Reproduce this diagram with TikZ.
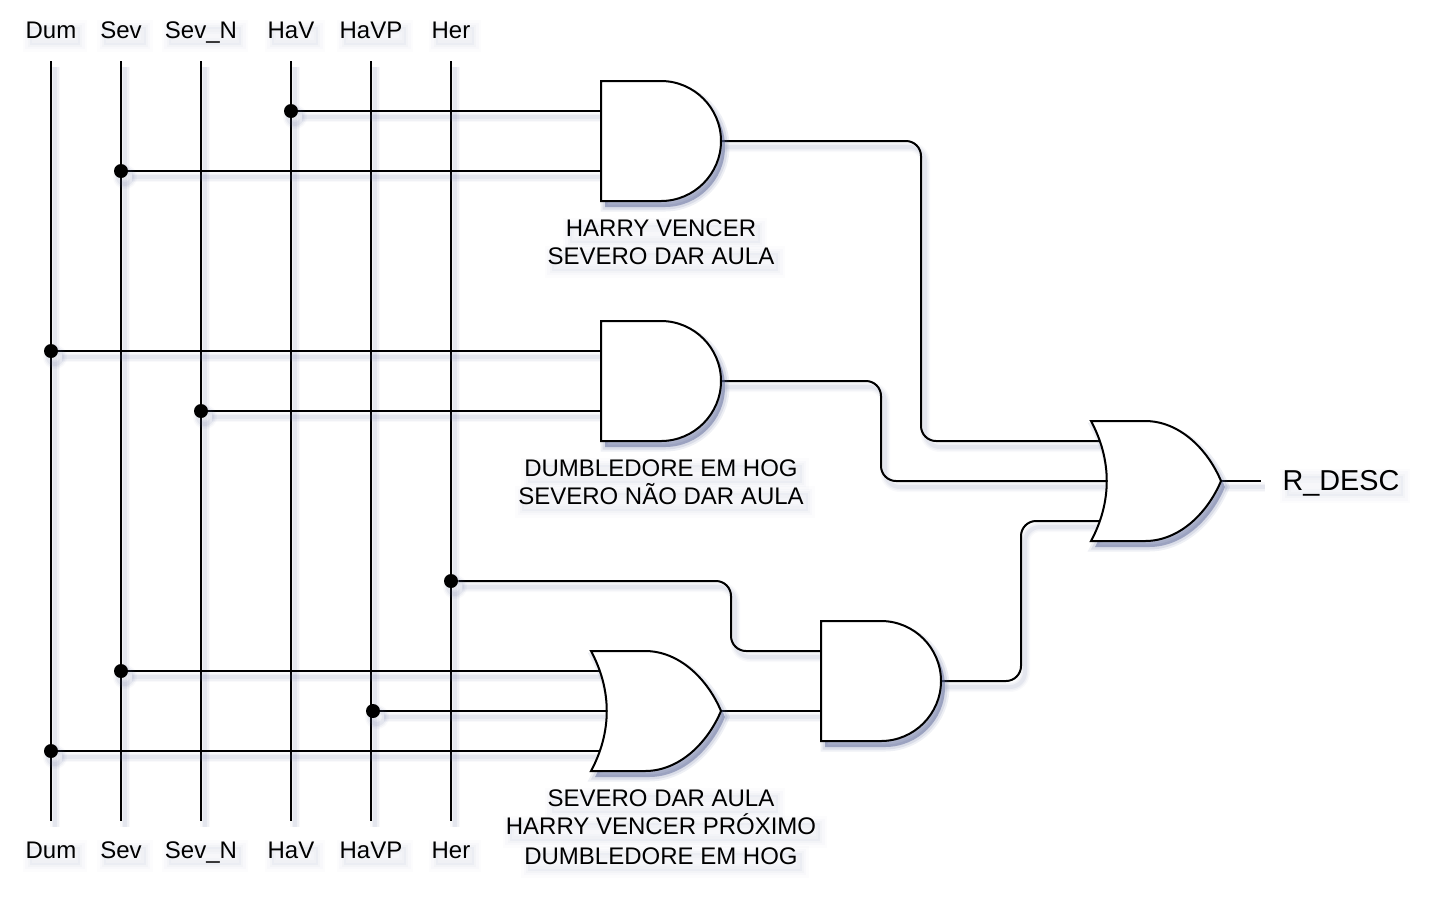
\documentclass[tikz,border=0pt]{standalone}
\usepackage{fontspec}
\setmainfont{Liberation Sans}
\usetikzlibrary{backgrounds}
\definecolor{ShadowBlue}{HTML}{5C6899}

\tikzset{
  soft/.style={
    preaction={draw=ShadowBlue,draw opacity=.04,line width=5pt,transform canvas={shift={(2pt,-3pt)}}},
    preaction={draw=ShadowBlue,draw opacity=.06,line width=3.5pt,transform canvas={shift={(2pt,-3pt)}}},
    preaction={draw=ShadowBlue,draw opacity=.08,line width=2pt,transform canvas={shift={(2pt,-3pt)}}}},
  softfill/.style={
    preaction={fill=ShadowBlue,fill opacity=.5,transform canvas={shift={(2pt,-3pt)}}},
    preaction={draw=ShadowBlue,draw opacity=.10,line width=4.5pt,transform canvas={shift={(2pt,-3pt)}}},
    preaction={draw=ShadowBlue,draw opacity=.14,line width=2.5pt,transform canvas={shift={(2pt,-3pt)}}}},
  softtext/.style={
    preaction={fill=ShadowBlue,fill opacity=.05,rounded corners=3pt,transform canvas={shift={(2pt,-3pt)}}},
    preaction={draw=ShadowBlue,draw opacity=.018,line width=7pt,rounded corners=3pt,transform canvas={shift={(2pt,-3pt)}}},
    preaction={draw=ShadowBlue,draw opacity=.025,line width=4.5pt,rounded corners=3pt,transform canvas={shift={(2pt,-3pt)}}},
    preaction={draw=ShadowBlue,draw opacity=.03,line width=2pt,rounded corners=3pt,transform canvas={shift={(2pt,-3pt)}}}},
  wire/.style={soft,line width=1pt,rounded corners=7.5pt},
  gatebody/.style={softfill,fill=white,draw=black,line width=1pt,line join=miter},
  dot/.style={soft,circle,fill=black,inner sep=0pt,minimum size=7pt},
  txt/.style={softtext,font=\fontsize{12}{14.4}\selectfont,inner sep=0pt,text height=8.6pt,text depth=0pt},
  bigtxt/.style={softtext,font=\fontsize{14.4}{17.3}\selectfont,inner sep=0pt,text height=10.3pt,text depth=0pt},
  andgate/.pic={
    \draw[gatebody] (0,0) -- (60,0) .. controls (93,0) and (120,27) .. (120,60)
      .. controls (120,93) and (93,120) .. (60,120) -- (0,120) -- cycle;
    \coordinate (-in1) at (0,30);
    \coordinate (-in2) at (0,90);
    \coordinate (-out) at (120,60);
  },
  orgate/.pic={
    \draw[gatebody] (0,0) -- (54,0) .. controls (89,0) and (117,29) .. (130,60)
      .. controls (117,91) and (89,120) .. (54,120) -- (0,120)
      .. controls (21,81) and (21,39) .. (0,0) -- cycle;
    \coordinate (-in1) at (9,20);
    \coordinate (-in2) at (16,60);
    \coordinate (-in3) at (9,100);
    \coordinate (-out) at (130,60);
  },
}

\begin{document}
\begin{tikzpicture}[x=0.5pt,y=-0.5pt]
  \useasboundingbox (0,0) rectangle (1442,902);

  % gates
  \pic (gHS) at (601,81) {andgate};
  \pic (gDS) at (601,321) {andgate};
  \pic (gOr) at (591,651) {orgate};
  \pic (gHer) at (821,621) {andgate};
  \pic (gOut) at (1091,421) {orgate};

  % rails with their names on both ends
  \foreach \x/\nm/\txt in {51/Dum/Dum,121/Sev/Sev,201/SevN/Sev\_N,291/HaV/HaV,371/HaVP/HaVP,451/Her/Her}{
    \coordinate (\nm a) at (\x,61);
    \coordinate (\nm b) at (\x,821);
    \node[txt] (\nm top) at (\x,30) {\txt};
    \node[txt] (\nm bot) at (\x,850) {\txt};
  }

  % junction dots
  \node[dot] (dHaV) at (291,111) {};
  \node[dot] (dSev) at (121,171) {};
  \node[dot] (dDum) at (51,351) {};
  \node[dot] (dSevN) at (201,411) {};
  \node[dot] (dHer) at (451,581) {};
  \node[dot] (dSevB) at (121,671) {};
  \node[dot] (dHaVP) at (373,711) {};
  \node[dot] (dDumB) at (51,751) {};

  \coordinate (endOut) at (1261,481);

  \begin{scope}[on background layer]
    \foreach \nm in {Dum,Sev,SevN,HaV,HaVP,Her}{
      \draw[wire] (\nm a) -- (\nm b);
    }
    \draw[wire] (dHaV) -- (gHS-in1);
    \draw[wire] (dSev) -- (gHS-in2);
    \draw[wire] (dDum) -- (gDS-in1);
    \draw[wire] (dSevN) -- (gDS-in2);
    \draw[wire] (dSevB) -- (gOr-in1);
    \draw[wire] (dHaVP) -- (gOr-in2);
    \draw[wire] (dDumB) -- (gOr-in3);
    \draw[wire] (dHer) -- ++(280,0) -- ++(0,70) -- (gHer-in1);
    \draw[wire] (gOr-out) -- (gHer-in2);
    \draw[wire] (gHS-out) -- ++(200,0) -- ++(0,300) -- (gOut-in1);
    \draw[wire] (gDS-out) -- ++(160,0) -- ++(0,100) -- (gOut-in2);
    \draw[wire] (gHer-out) -- ++(80,0) -- ++(0,-160) -- (gOut-in3);
    \draw[wire] (gOut-out) -- (endOut);
  \end{scope}

  % captions
  \node[txt] (capHSa) at (661,228) {HARRY VENCER};
  \node[txt] (capHSb) at (661,256) {SEVERO DAR AULA};
  \node[txt] (capDSa) at (661,468) {DUMBLEDORE EM HOG};
  \node[txt] (capDSb) at (661,496) {SEVERO NÃO DAR AULA};
  \node[txt] (capOra) at (661,798) {SEVERO DAR AULA};
  \node[txt] (capOrb) at (661,826) {HARRY VENCER PRÓXIMO};
  \node[txt] (capOrc) at (661,856) {DUMBLEDORE EM HOG};
  \node[bigtxt] (capOut) at (1341,480) {R\_DESC};
\end{tikzpicture}
\end{document}
